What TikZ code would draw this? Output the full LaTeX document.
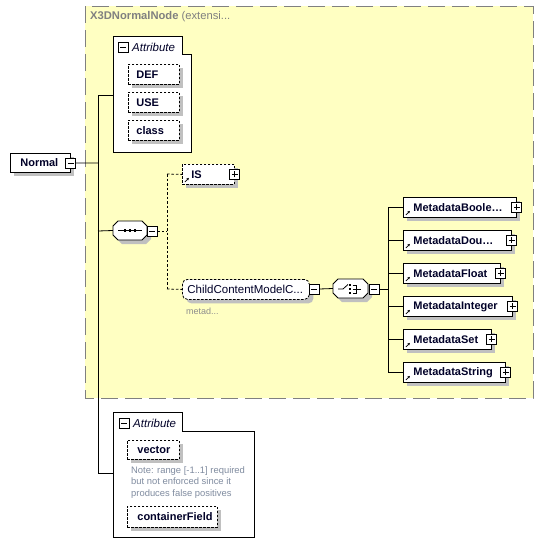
\documentclass[tikz,border=0pt]{standalone}
\usepackage{fontspec}
\setmainfont{Liberation Sans}
\usetikzlibrary{shadows,arrows.meta}
\definecolor{grpfill}{RGB}{255,255,194}
\definecolor{grpline}{RGB}{128,128,128}
\definecolor{shd}{RGB}{192,192,192}
\definecolor{ink}{RGB}{0,0,40}
\definecolor{notec}{RGB}{128,140,160}
\newcommand\chamfpath[4]{(#1+5,#2) -- (#3-5,#2) -- (#3,#2+5) -- (#3,#4-5) -- (#3-5,#4) -- (#1+5,#4) -- (#1,#4-5) -- (#1,#2+5) -- cycle}
\begin{document}
\begin{tikzpicture}[x=1pt,y=-1pt,
  lw/.style={line width=0.8pt},
  bfnt/.style={font=\fontsize{11}{13}\selectfont\bfseries},
  shadowed/.style={drop shadow={shadow xshift=4pt, shadow yshift=-4pt, fill=shd, opacity=1}},
  base/.style={bfnt, text=ink, inner sep=0pt, anchor=north west, align=left,
    minimum height=20pt, fill=white, draw=black, lw, shadowed},
  bw/.style={text width=#1pt},
  elem/.style={base},
  optelem/.style={base, dash pattern=on 2.5pt off 1.5pt},
  refarrow/.style={path picture={\draw[solid, line width=0.7pt, -{Stealth[length=2.6pt,width=2.6pt]}]
      ([shift={(2.5pt,2.5pt)}]path picture bounding box.south west) -- ++(4pt,4pt);}},
  minusbox/.style={draw=black, fill=white, minimum size=10pt, inner sep=0pt, line width=0.7pt, solid,
    path picture={\draw[line width=0.7pt] ([xshift=2pt]path picture bounding box.west) -- ([xshift=-2pt]path picture bounding box.east);}},
  plusbox/.style={draw=black, fill=white, minimum size=10pt, inner sep=0pt, line width=0.7pt, solid,
    path picture={\draw[line width=0.7pt] ([xshift=2pt]path picture bounding box.west) -- ([xshift=-2pt]path picture bounding box.east);
      \draw[line width=0.7pt] ([yshift=2pt]path picture bounding box.south) -- ([yshift=-2pt]path picture bounding box.north);}},
  compbox/.style={inner sep=0pt, minimum height=19pt},
  compshadow/.style={fill=shd, draw=none},
  compface/.style={fill=white, draw=black, lw},
  attrframe/.style={inner sep=0pt, anchor=north west},
  conn/.style={lw},
  optconn/.style={lw, dash pattern=on 2.5pt off 2pt},
  attrlabel/.style={font=\fontsize{11.5}{13}\selectfont\itshape, text=ink, anchor=west, inner sep=0pt},
]
\useasboundingbox (0,0) rectangle (544,555);

% group background
\draw[grpline, fill=grpfill, line width=1pt, dash pattern=on 17pt off 7pt] (85,6) rectangle (533,398);
\node[anchor=west, text=grpline, font=\fontsize{11.2}{13}\selectfont, inner sep=0pt] (grptitle) at (90,17)
  {\textbf{X3DNormalNode} (extensi...};

% attribute group 1
\node[attrframe, minimum width=78pt, minimum height=116pt] (attr1) at (113,36) {};
\draw[lw, fill=white] (attr1.north west) -- ++(69,0) -- ++(0,18) -- (attr1.north east |- 113,54)
  -- (attr1.south east) -- (attr1.south west) -- cycle;
\node[minusbox] (attr1pm) at (123,47) {};
\node[attrlabel] (attr1lab) at (132,47) {Attribute};
\node[optelem, bw=51] (def) at (128,64) {\hspace*{8pt}DEF};
\node[optelem, bw=51] (use) at (128,92) {\hspace*{8pt}USE};
\node[optelem, bw=51] (cls) at (128,120) {\hspace*{8pt}class};

% root
\node[elem, bw=60, minimum height=19pt] (normal) at (10,153) {\hspace*{10pt}Normal};
\node[minusbox] (normalpm) at (normal.east) {};

% trunk
\coordinate (tA) at (98,95);
\coordinate (tN) at (98,163);
\coordinate (tS) at (98,231);
\coordinate (tB) at (98,473);
\draw[conn] (normalpm.east) -- (tN);
\draw[conn] (tA -| attr1.west) -- (tA) -- (tB);

% sequence
\path[compshadow] \chamfpath{117}{225}{151}{244};
\path[compface] \chamfpath{113}{221}{147}{240};
\node[compbox, minimum width=34pt] (seq) at (130,230.5) {};
\draw[lw] ([xshift=-12pt]seq.center) -- ([xshift=12pt]seq.center);
\foreach \dx in {-5,0,5} \fill ([xshift=\dx pt]seq.center) ++(-1.3,-1.3) rectangle ++(2.6,2.6);
\node[minusbox] (seqpm) at (152,231) {};
\draw[conn] (tS) -- (seq.west);

% sequence branches
\coordinate (sJ) at (167,231);
\coordinate (sT) at (167,174);
\coordinate (sB) at (167,289);
\draw[optconn] (seqpm.east) -- (sJ);
\draw[optconn] (sT) -- (sB);

\node[optelem, bw=52, refarrow] (is) at (182,164) {\hspace*{9pt}IS};
\node[plusbox] (ispm) at (is.east) {};
\draw[optconn] (sT) -- (is.west);

\node[base, rounded corners=5pt, dash pattern=on 2.5pt off 1.5pt, bw=127, font=\fontsize{11.5}{13}\selectfont] (ccm) at (182,279) {\hspace*{5pt}ChildContentModelC...};
\node[minusbox] (ccmpm) at (314,289) {};
\draw[optconn] (sB) -- (ccm.west);
\node[anchor=west, inner sep=0pt, text=grpline!90, font=\fontsize{9}{11}\selectfont] (ccmnote) at (186,311) {metad...};

% choice
\path[compshadow] \chamfpath{337}{283}{372}{302};
\path[compface] \chamfpath{333}{279}{368}{298};
\node[compbox, minimum width=35pt] (cho) at (350.5,288.5) {};
\draw[lw] (338,289) -- (343,289) -- (348,284.5);
\foreach \dy in {-4,0,4} \fill (350,289+\dy) ++(-1.2,-1.2) rectangle ++(2.4,2.4);
\draw[lw] (352.5,285) -- (356,285) -- (356,293) -- (352.5,293);
\draw[lw] (352.5,289) -- (361,289);
\node[minusbox] (chopm) at (374,289) {};
\draw[conn] (ccmpm.east) -- (cho.west);

\coordinate (cJ) at (388,289);
\coordinate (cT) at (388,207);
\coordinate (cB) at (388,372);
\draw[conn] (chopm.east) -- (cJ);
\draw[conn] (cT) -- (cB);

\foreach \nm/\txt/\w/\k in {mb/{MetadataBoole\ldots}/113/0, md/{MetadataDou\ldots}/108/1, mf/MetadataFloat/97/2,
    mi/MetadataInteger/109/3, ms/MetadataSet/88/4, mstr/MetadataString/102/5} {
  \node[elem, bw=\w, refarrow] (\nm) at (403,197+33*\k) {\hspace*{10pt}\txt};
  \node[plusbox] (\nm pm) at (\nm.east) {};
  \draw[conn] (cT |- \nm.west) -- (\nm.west);
}

% attribute group 2
\node[attrframe, minimum width=141pt, minimum height=125pt] (attr2) at (113,412) {};
\draw[lw, fill=white] (attr2.north west) -- ++(69,0) -- ++(0,19) -- (attr2.north east |- 113,431)
  -- (attr2.south east) -- (attr2.south west) -- cycle;
\node[minusbox] (attr2pm) at (124,423) {};
\node[attrlabel] (attr2lab) at (133,423) {Attribute};
\node[optelem, bw=52, minimum height=19pt] (vec) at (127,440) {\hspace*{10pt}vector};
\node[anchor=north west, inner sep=0pt, text=notec, align=left, font=\fontsize{9.4}{11.5}\selectfont] (vecnote) at (131,466)
  {Note: range [-1..1] required\\but not enforced since it\\produces false positives};
\node[optelem, bw=90, minimum height=21pt] (cf) at (127,506) {\hspace*{10pt}containerField};
\draw[conn] (tB) -- (tB -| attr2.west);
\end{tikzpicture}
\end{document}
